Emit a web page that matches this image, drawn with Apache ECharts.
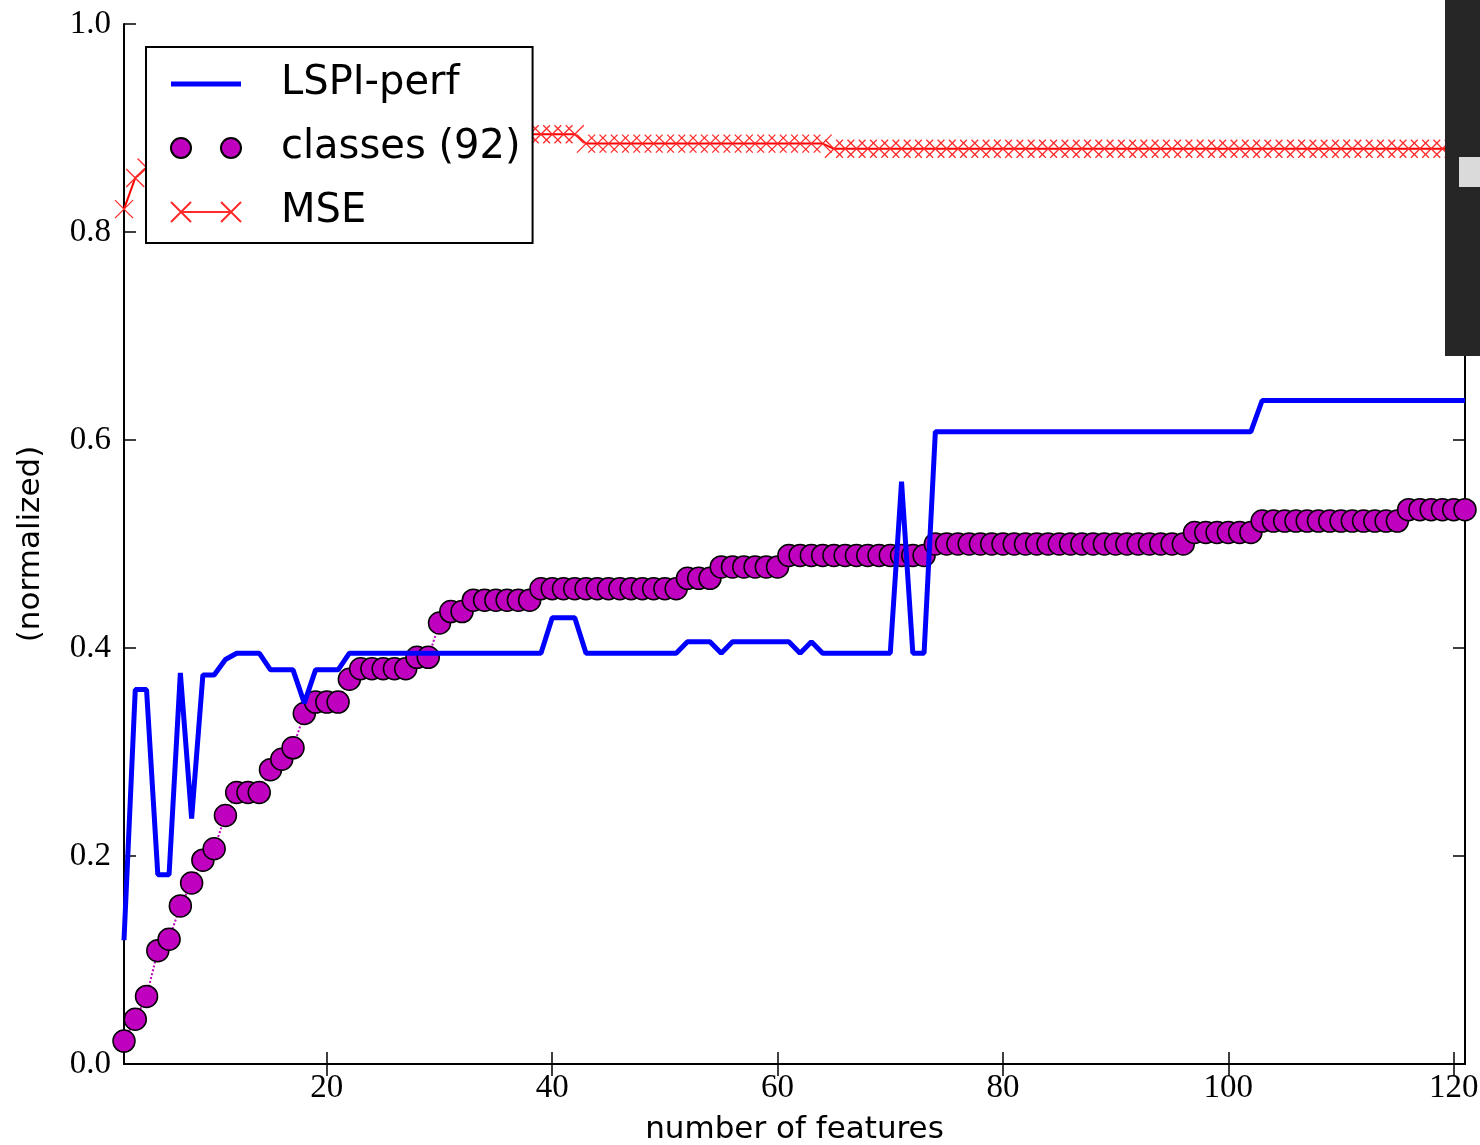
<!DOCTYPE html>
<html><head><meta charset="utf-8">
<script src="https://cdn.jsdelivr.net/npm/echarts@6/dist/echarts.min.js"></script>
<style>html,body{margin:0;padding:0;background:#fff}#c{width:1480px;height:1145px}</style>
</head><body><div id="c"></div>
<script>
// number of features (x values)
const featureCounts = [
  2,3,4,5,6,7,8,9,10,11,
  12,13,14,15,16,17,18,19,20,21,
  22,23,24,25,26,27,28,29,30,31,
  32,33,34,35,36,37,38,39,40,41,
  42,43,44,45,46,47,48,49,50,51,
  52,53,54,55,56,57,58,59,60,61,
  62,63,64,65,66,67,68,69,70,71,
  72,73,74,75,76,77,78,79,80,81,
  82,83,84,85,86,87,88,89,90,91,
  92,93,94,95,96,97,98,99,100,101,
  102,103,104,105,106,107,108,109,110,111,
  112,113,114,115,116,117,118,119,120,121
];
const lspiPerf = [
  0.119,0.360,0.360,0.182,0.182,0.376,0.236,0.374,0.374,0.389,
  0.395,0.395,0.395,0.379,0.379,0.379,0.347,0.379,0.379,0.379,
  0.395,0.395,0.395,0.395,0.395,0.395,0.395,0.395,0.395,0.395,
  0.395,0.395,0.395,0.395,0.395,0.395,0.395,0.395,0.429,0.429,
  0.429,0.395,0.395,0.395,0.395,0.395,0.395,0.395,0.395,0.395,
  0.406,0.406,0.406,0.395,0.406,0.406,0.406,0.406,0.406,0.406,
  0.395,0.406,0.395,0.395,0.395,0.395,0.395,0.395,0.395,0.560,
  0.395,0.395,0.608,0.608,0.608,0.608,0.608,0.608,0.608,0.608,
  0.608,0.608,0.608,0.608,0.608,0.608,0.608,0.608,0.608,0.608,
  0.608,0.608,0.608,0.608,0.608,0.608,0.608,0.608,0.608,0.608,
  0.608,0.638,0.638,0.638,0.638,0.638,0.638,0.638,0.638,0.638,
  0.638,0.638,0.638,0.638,0.638,0.638,0.638,0.638,0.638,0.638
];
const classes92 = [
  0.022,0.043,0.065,0.109,0.120,0.152,0.174,0.196,0.207,0.239,
  0.261,0.261,0.261,0.283,0.293,0.304,0.337,0.348,0.348,0.348,
  0.370,0.380,0.380,0.380,0.380,0.380,0.391,0.391,0.424,0.435,
  0.435,0.446,0.446,0.446,0.446,0.446,0.446,0.457,0.457,0.457,
  0.457,0.457,0.457,0.457,0.457,0.457,0.457,0.457,0.457,0.457,
  0.467,0.467,0.467,0.478,0.478,0.478,0.478,0.478,0.478,0.489,
  0.489,0.489,0.489,0.489,0.489,0.489,0.489,0.489,0.489,0.489,
  0.489,0.489,0.500,0.500,0.500,0.500,0.500,0.500,0.500,0.500,
  0.500,0.500,0.500,0.500,0.500,0.500,0.500,0.500,0.500,0.500,
  0.500,0.500,0.500,0.500,0.500,0.511,0.511,0.511,0.511,0.511,
  0.511,0.522,0.522,0.522,0.522,0.522,0.522,0.522,0.522,0.522,
  0.522,0.522,0.522,0.522,0.533,0.533,0.533,0.533,0.533,0.533
];
const mseValues = [
  0.822,0.852,0.862,0.868,0.872,0.876,0.879,0.881,0.883,0.885,
  0.886,0.887,0.888,0.889,0.889,0.890,0.890,0.891,0.891,0.892,
  0.892,0.892,0.892,0.892,0.892,0.892,0.892,0.892,0.892,0.892,
  0.892,0.892,0.892,0.892,0.892,0.892,0.894,0.894,0.894,0.894,
  0.894,0.885,0.885,0.885,0.885,0.885,0.885,0.885,0.885,0.885,
  0.885,0.885,0.885,0.885,0.885,0.885,0.885,0.885,0.885,0.885,
  0.885,0.885,0.885,0.880,0.880,0.880,0.880,0.880,0.880,0.880,
  0.880,0.880,0.880,0.880,0.880,0.880,0.880,0.880,0.880,0.880,
  0.880,0.880,0.880,0.880,0.880,0.880,0.880,0.880,0.880,0.880,
  0.880,0.880,0.880,0.880,0.880,0.880,0.880,0.880,0.880,0.880,
  0.880,0.880,0.880,0.880,0.880,0.880,0.880,0.880,0.880,0.880,
  0.880,0.880,0.880,0.880,0.880,0.880,0.880,0.880,0.880,0.880
];
const xTickValues = [20, 40, 60, 80, 100, 120];
const seriesNames = ['LSPI-perf', 'classes (92)', 'MSE'];

const pairs = vals => featureCounts.map((x, i) => [x, vals[i]]);
const serifFont = 'Liberation Serif';
const sansFont = 'DejaVu Sans';

const chart = echarts.init(document.getElementById('c'), null, {renderer: 'canvas'});
chart.setOption({
  animation: false,
  backgroundColor: '#ffffff',
  grid: {left: 124, top: 24, right: 15, bottom: 81, containLabel: false, outerBoundsMode: 'none'},
  legend: {
    orient: 'vertical', left: 146, top: 47,
    padding: [15, 12, 9, 24],
    itemWidth: 70, itemHeight: 20, itemGap: 20,
    backgroundColor: '#ffffff', borderColor: '#000000', borderWidth: 2,
    textStyle: {fontFamily: sansFont, fontSize: 40, color: '#000', lineHeight: 44, padding: [0, 0, 0, 35]},
    z: 10,
    data: [
      {name: seriesNames[0], icon: 'path://M0,0L70,0L70,5L0,5Z'},
      {name: seriesNames[1], icon: 'path://M0,10A10,10,0,1,1,20,10A10,10,0,1,1,0,10ZM50,10A10,10,0,1,1,70,10A10,10,0,1,1,50,10Z'},
      {name: seriesNames[2], icon: 'path://M0,0L20,20M20,0L0,20M10,10L60,10M50,0L70,20M70,0L50,20'}
    ]
  },
  xAxis: [{
    type: 'value', min: 2, max: 121, position: 'bottom',
    axisLine: {show: true, lineStyle: {color: '#000', width: 2}},
    axisTick: {show: true, inside: true, length: 12, customValues: xTickValues, lineStyle: {color: '#000', width: 1.5}},
    axisLabel: {show: true, customValues: xTickValues, fontFamily: serifFont, fontSize: 33, color: '#000', margin: 8},
    splitLine: {show: false},
    name: 'number of features', nameLocation: 'middle', nameGap: 50,
    nameTextStyle: {fontFamily: sansFont, fontSize: 31, color: '#000'}
  }, {
    type: 'value', min: 2, max: 121, position: 'top',
    axisLine: {show: true, lineStyle: {color: '#000', width: 2}},
    axisTick: {show: true, inside: true, length: 12, customValues: xTickValues, lineStyle: {color: '#000', width: 1.5}},
    axisLabel: {show: false},
    splitLine: {show: false}
  }],
  yAxis: [{
    type: 'value', min: 0, max: 1, interval: 0.2, position: 'left',
    axisLine: {show: true, lineStyle: {color: '#000', width: 2}},
    axisTick: {show: true, inside: true, length: 12, lineStyle: {color: '#000', width: 1.5}},
    axisLabel: {show: true, fontFamily: serifFont, fontSize: 33, color: '#000', margin: 13,
      formatter: v => v.toFixed(1)},
    splitLine: {show: false},
    name: '(normalized)', nameLocation: 'middle', nameGap: 78, nameRotate: 90,
    nameTextStyle: {fontFamily: sansFont, fontSize: 31, color: '#000'}
  }, {
    type: 'value', min: 0, max: 1, interval: 0.2, position: 'right',
    axisLine: {show: true, lineStyle: {color: '#000', width: 2}},
    axisTick: {show: true, inside: true, length: 12, lineStyle: {color: '#000', width: 1.5}},
    axisLabel: {show: false},
    splitLine: {show: false}
  }],
  series: [{
    name: seriesNames[0], type: 'line', data: pairs(lspiPerf),
    symbol: 'none', showSymbol: false, z: 4,
    lineStyle: {color: '#0000ff', width: 5},
    itemStyle: {color: '#0000ff'}
  }, {
    name: seriesNames[1], type: 'line', data: pairs(classes92),
    symbol: 'circle', symbolSize: 22, z: 3,
    lineStyle: {color: '#bf00bf', width: 2, type: 'dotted'},
    itemStyle: {color: '#bf00bf', borderColor: '#000', borderWidth: 1.5}
  }, {
    name: seriesNames[2], type: 'line', data: pairs(mseValues),
    symbol: 'path://M0,0L10,10M10,0L0,10', symbolSize: 18, z: 4,
    lineStyle: {color: '#ff0000', width: 2},
    itemStyle: {color: '#ff0000', borderColor: '#ff2a2a', borderWidth: 1.3}
  }],
  graphic: [
    {type: 'rect', z: 100, left: 1445, top: 0, shape: {width: 35, height: 356}, style: {fill: '#262626'}},
    {type: 'rect', z: 101, left: 1459, top: 157, shape: {width: 21, height: 30}, style: {fill: '#dadada'}}
  ]
});
</script>
</body></html>
